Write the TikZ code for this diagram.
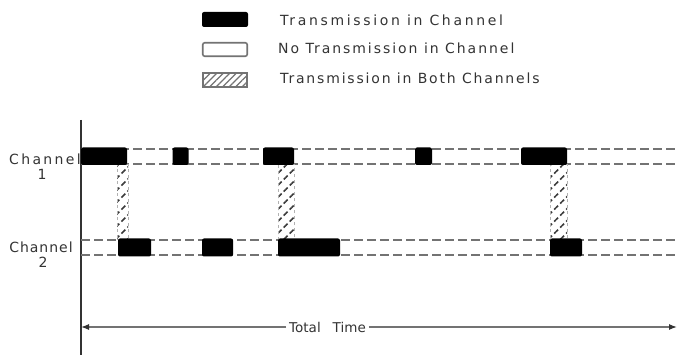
\documentclass[tikz,border=0pt]{standalone}
\usepackage{fontspec}
\setmainfont{DejaVu Sans}
\usetikzlibrary{patterns.meta,arrows.meta}
\definecolor{ink}{gray}{0.2}
\definecolor{guidegray}{gray}{0.45}
\begin{document}
\begin{tikzpicture}[x=1pt,y=-1pt,
  txt/.style={font=\fontsize{14}{16}\selectfont, text=ink, inner sep=0pt},
  blackbar/.style={fill=black, rounded corners=2pt, inner sep=0pt, draw=none},
  hatchbar/.style={pattern={Lines[angle=45,distance=8.5pt,line width=1.6pt]}, pattern color=gray!45!black, draw=gray!60, dashed, line width=0.7pt, inner sep=0pt},
  guide/.style={draw=guidegray, line width=1.4pt, dash pattern=on 9pt off 4pt},
  axisline/.style={draw=ink, line width=1.3pt},
  timeline/.style={draw=guidegray, line width=1.2pt, -{Latex[length=8pt,width=6pt,fill=ink,color=ink]}}
]
\useasboundingbox (0,0) rectangle (678,355);

% legend
\node[blackbar, minimum width=46pt, minimum height=15pt] (lgA) at (225,19.5) {};
\node[draw=guidegray, line width=1.6pt, rounded corners=2pt, fill=white, minimum width=44.5pt, minimum height=13.5pt, inner sep=0pt] (lgB) at (225,49.5) {};
\node[draw=guidegray, line width=1.6pt, pattern={Lines[angle=45,distance=4.6pt,line width=1.3pt]}, pattern color=guidegray, minimum width=44.5pt, minimum height=13.5pt, inner sep=0pt] (lgC) at (225,80) {};
\node[txt, anchor=base west] (tA) at (280,26) {\addfontfeatures{LetterSpace=19}Transmission in Channel};
\node[txt, anchor=base west] (tB) at (278,54) {\addfontfeatures{LetterSpace=14}No Transmission in Channel};
\node[txt, anchor=base west] (tC) at (280,84) {\addfontfeatures{LetterSpace=13}Transmission in Both Channels};

% channel labels
\node[txt, anchor=base] (ch1a) at (45,165) {\addfontfeatures{LetterSpace=17}Channel};
\node[txt, anchor=base] (ch1b) at (42,180) {1};
\node[txt, anchor=base] (ch2a) at (41,253) {\addfontfeatures{LetterSpace=7}Channel};
\node[txt, anchor=base] (ch2b) at (43,268) {2};

% axis
\coordinate (axT) at (81,120);
\coordinate (axB) at (81,355);
\draw[axisline] (axT) -- (axB);

% guide lines
\coordinate (g1a) at (81,149);  \coordinate (g1b) at (678,149);
\coordinate (g2a) at (81,164);  \coordinate (g2b) at (678,164);
\coordinate (g3a) at (81,240);  \coordinate (g3b) at (678,240);
\coordinate (g4a) at (81,255);  \coordinate (g4b) at (678,255);
\draw[guide] (g1a) -- (g1b);
\draw[guide] (g2a) -- (g2b);
\draw[guide] (g3a) -- (g3b);
\draw[guide] (g4a) -- (g4b);

% hatched overlap bars
\node[hatchbar, minimum width=11pt, minimum height=75pt] (h1) at (122.5,202) {};
\node[hatchbar, minimum width=16pt, minimum height=75pt] (h2) at (286,202) {};
\node[hatchbar, minimum width=17pt, minimum height=75pt] (h3) at (558.5,202) {};

% channel 1 bars
\node[blackbar, minimum width=46pt, minimum height=17.5pt] (a1) at (104,156.25) {};
\node[blackbar, minimum width=16pt, minimum height=17.5pt] (a2) at (180.5,156.25) {};
\node[blackbar, minimum width=31pt, minimum height=17.5pt] (a3) at (278.5,156.25) {};
\node[blackbar, minimum width=17pt, minimum height=17.5pt] (a4) at (423.5,156.25) {};
\node[blackbar, minimum width=46pt, minimum height=17.5pt] (a5) at (544,156.25) {};

% channel 2 bars
\node[blackbar, minimum width=33pt, minimum height=18pt] (b1) at (134.5,247.5) {};
\node[blackbar, minimum width=31pt, minimum height=18pt] (b2) at (217.5,247.5) {};
\node[blackbar, minimum width=62pt, minimum height=18pt] (b3) at (309,247.5) {};
\node[blackbar, minimum width=32pt, minimum height=18pt] (b4) at (566,247.5) {};

% total time
\node[txt, fill=white, inner xsep=3pt, inner ysep=2pt, font=\fontsize{13.5}{15}\selectfont] (tt) at (327.5,327) {Total\hspace{12pt}Time};
\coordinate (ttL) at (81,327);
\coordinate (ttR) at (677,327);
\draw[timeline] (tt.west) -- (ttL);
\draw[timeline] (tt.east) -- (ttR);
\end{tikzpicture}
\end{document}
